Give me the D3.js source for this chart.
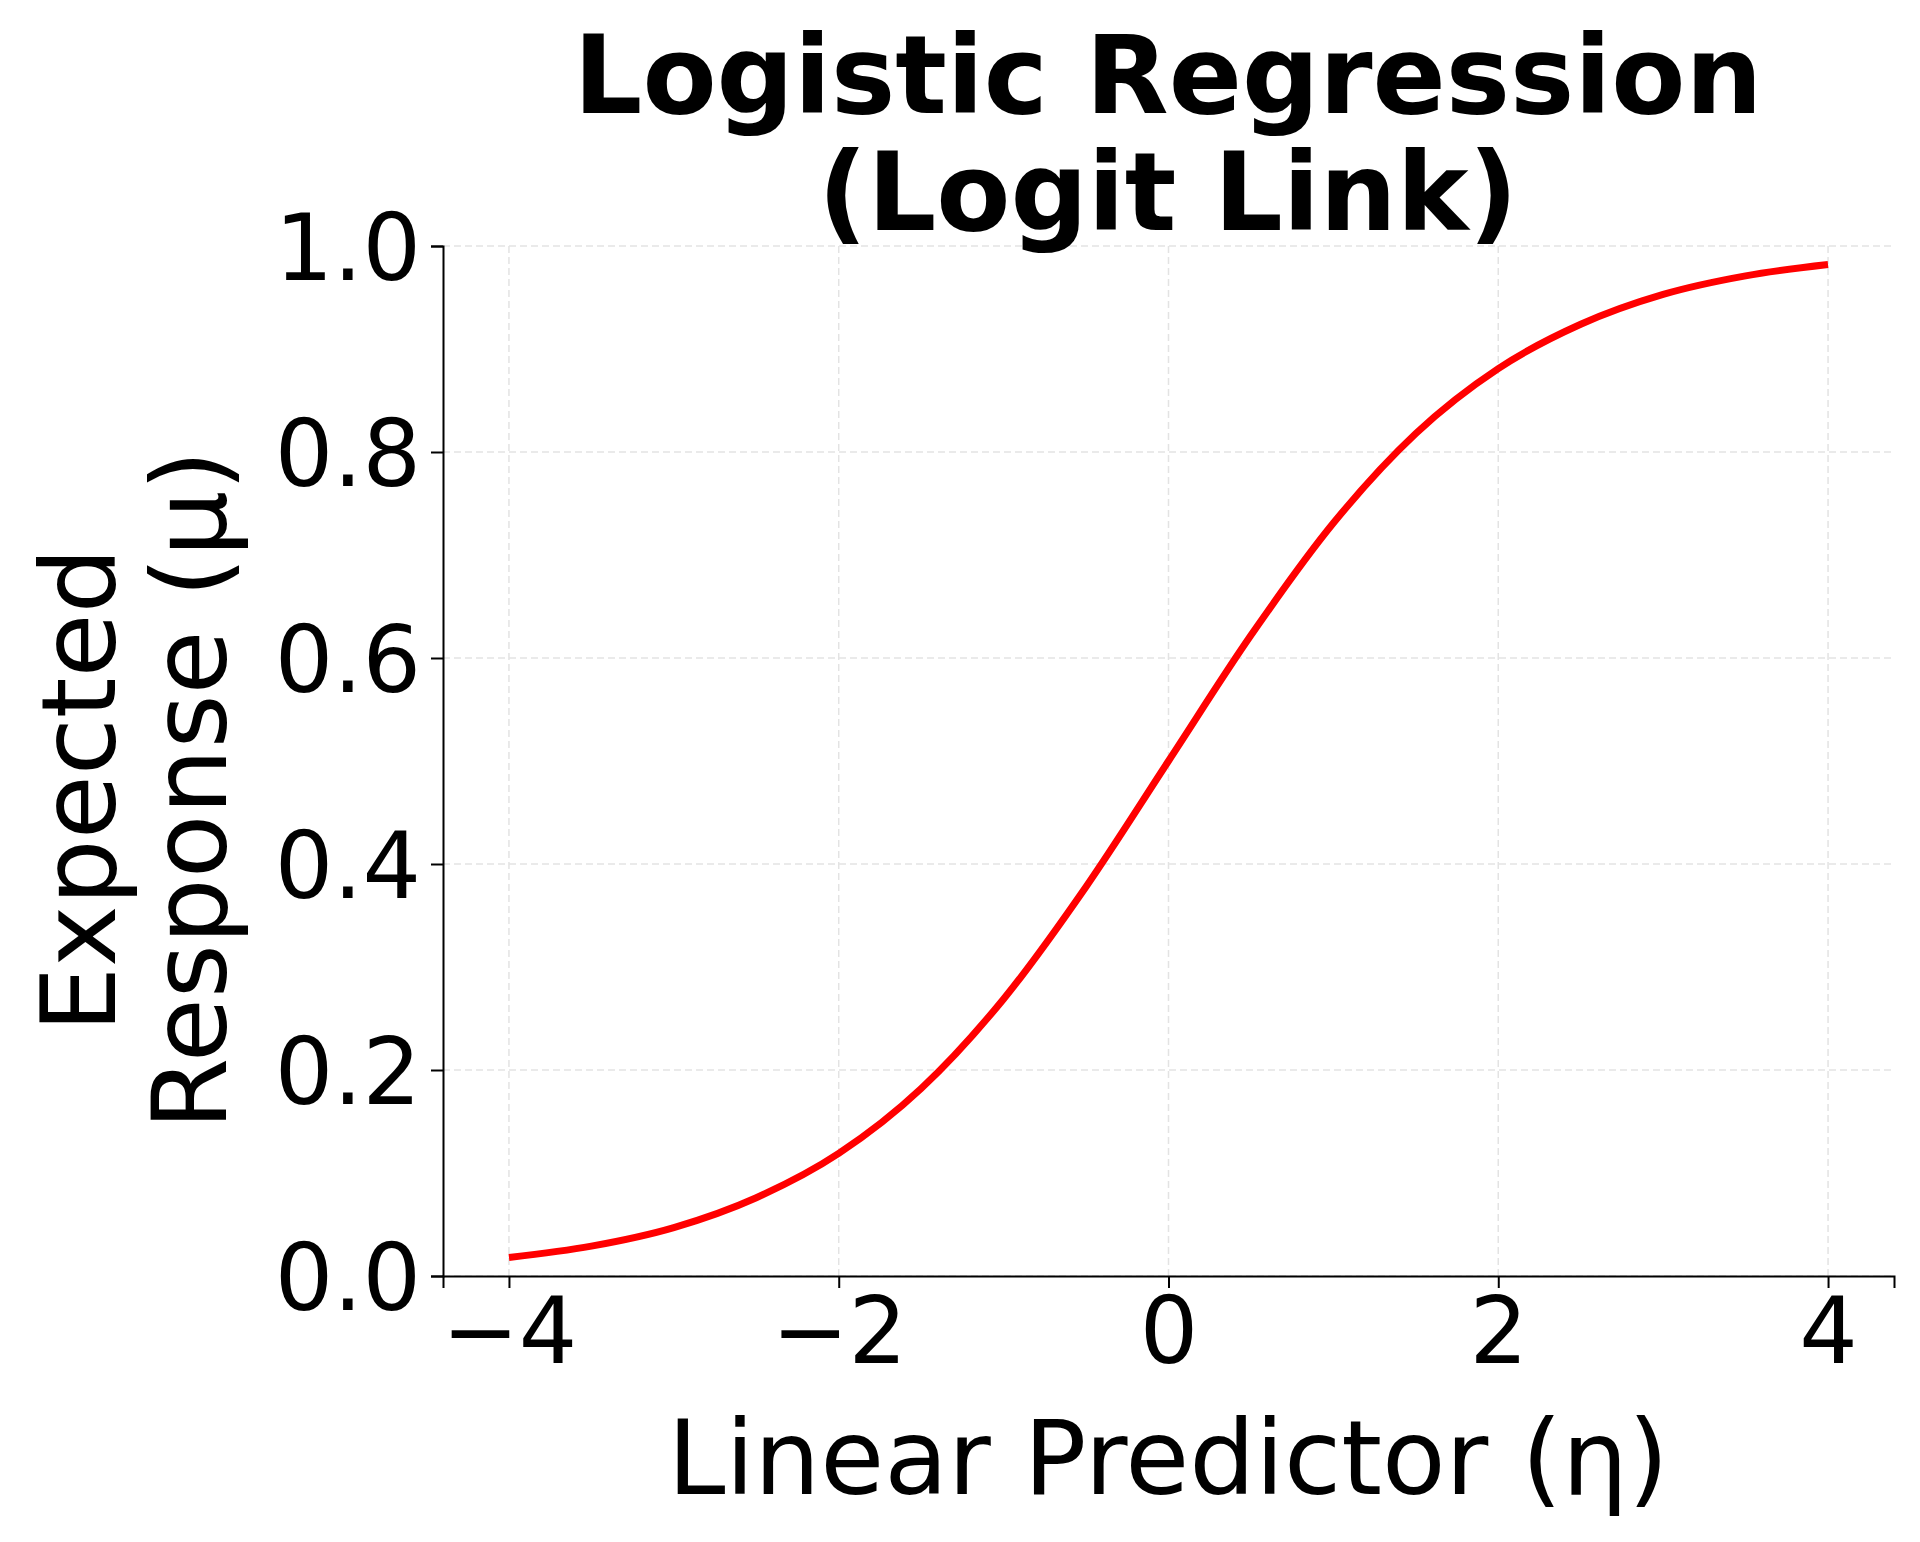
<!DOCTYPE html>
<html><head><meta charset="utf-8">
<script src="https://cdn.jsdelivr.net/npm/d3@7/dist/d3.min.js"></script>
<style>body{margin:0;background:#fff}text{font-family:"DejaVu Sans",sans-serif}</style>
</head><body><div id="chart"></div>
<script>
// values
var eta = [-4, -3.5, -3, -2.5, -2, -1.5, -1, -0.5, 0, 0.5, 1, 1.5, 2, 2.5, 3, 3.5, 4];
var mu = [0.018, 0.029, 0.047, 0.076, 0.119, 0.182, 0.269, 0.378, 0.5, 0.622, 0.731, 0.818, 0.881, 0.924, 0.953, 0.971, 0.982];
var xTicks = [-4, -2, 0, 2, 4];
var yTicks = [0, 0.2, 0.4, 0.6, 0.8, 1.0];

var W = 1920, H = 1542;
var svg = d3.select('#chart').append('svg').attr('width', W).attr('height', H);
var x = d3.scaleLinear().domain([-4.4, 4.4]).range([443, 1894]);
var y = d3.scaleLinear().domain([0, 1]).range([1276, 246]);

// grid
svg.append('g').selectAll('line').data(xTicks).join('line')
  .attr('x1', function(d) { return x(d); }).attr('x2', function(d) { return x(d); })
  .attr('y1', y(0)).attr('y2', y(1))
  .attr('stroke', '#e3e3e3').attr('stroke-width', 1.5).attr('stroke-dasharray', '7,4');
svg.append('g').selectAll('line').data(yTicks).join('line')
  .attr('x1', x.range()[0]).attr('x2', x.range()[1])
  .attr('y1', function(d) { return y(d); }).attr('y2', function(d) { return y(d); })
  .attr('stroke', '#e3e3e3').attr('stroke-width', 1.5).attr('stroke-dasharray', '7,4');

var xAxis = svg.append('g').attr('transform', 'translate(0,' + y(0) + ')')
  .call(d3.axisBottom(x).tickValues(xTicks).tickSize(12).tickPadding(10)
    .tickFormat(function(d) { return d < 0 ? '\u2212' + Math.abs(d) : d; }));
var yAxis = svg.append('g').attr('transform', 'translate(' + x.range()[0] + ',0)')
  .call(d3.axisLeft(y).tickValues(yTicks).tickSize(12).tickPadding(10).tickFormat(d3.format('.1f')));
[xAxis, yAxis].forEach(function(a) {
  a.selectAll('text').attr('font-size', 92).attr('fill', '#000').style('font-family', '"DejaVu Sans",sans-serif');
  a.selectAll('line').attr('stroke', '#000').attr('stroke-width', 2);
  a.select('.domain').attr('stroke', '#000').attr('stroke-width', 2);
});
yAxis.selectAll('text').attr('dy', '0.36em');

svg.append('path').datum(d3.zip(eta, mu))
  .attr('d', d3.line().x(function(d) { return x(d[0]); }).y(function(d) { return y(d[1]); }).curve(d3.curveMonotoneX))
  .attr('fill', 'none').attr('stroke', '#ff0000').attr('stroke-width', 7);

svg.append('text').attr('x', 1168).attr('y', 113).attr('text-anchor', 'middle')
  .attr('font-size', 108).attr('font-weight', 'bold').text('Logistic Regression');
svg.append('text').attr('x', 1168).attr('y', 230).attr('text-anchor', 'middle')
  .attr('font-size', 108).attr('font-weight', 'bold').text('(Logit Link)');

svg.append('text').attr('x', 1168).attr('y', 1494).attr('text-anchor', 'middle')
  .attr('font-size', 104).text('Linear Predictor (\u03b7)');

var yl = svg.append('text').attr('transform', 'translate(0,790) rotate(-90)').attr('text-anchor', 'middle').attr('font-size', 104);
yl.append('tspan').attr('x', 0).attr('y', 115).text('Expected');
yl.append('tspan').attr('x', 0).attr('y', 226).text('Response (\u03bc)');
</script></body></html>
